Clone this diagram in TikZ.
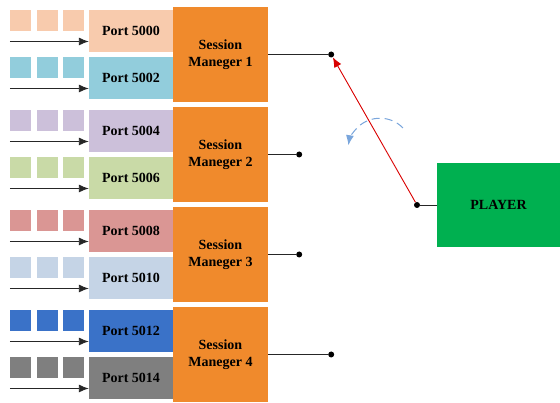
\documentclass[tikz,border=0pt]{standalone}
\usepackage{fontspec}
\setmainfont{Liberation Serif}
\usetikzlibrary{arrows.meta}
\definecolor{peach}{HTML}{F8CBAD}
\definecolor{sky}{HTML}{92CDDC}
\definecolor{lavender}{HTML}{CCC0DA}
\definecolor{sage}{HTML}{C9DAA7}
\definecolor{rose}{HTML}{DA9694}
\definecolor{mist}{HTML}{C5D4E6}
\definecolor{royal}{HTML}{3A72C8}
\definecolor{slate}{HTML}{7F7F7F}
\definecolor{smorange}{HTML}{F08A2C}
\definecolor{plgreen}{HTML}{00B050}
\definecolor{turnblue}{HTML}{7AA6DC}
\begin{document}
\begin{tikzpicture}[x=1pt, y=1pt, node distance=47pt]
  \tikzstyle{port} = [rectangle, minimum width=84pt, minimum height=42pt, inner sep=0pt,
                      font=\bfseries\fontsize{14}{16}\selectfont]
  \tikzstyle{manager} = [rectangle, fill=smorange, minimum width=95pt, minimum height=95pt,
                         inner sep=0pt, align=center, font=\bfseries\fontsize{14}{16.5}\selectfont]
  \tikzstyle{pkt} = [rectangle, minimum size=21pt, inner sep=0pt]
  \tikzstyle{dot} = [circle, fill=black, minimum size=6pt, inner sep=0pt]
  \tikzstyle{wire} = [line width=0.9pt, black!85]
  \tikzstyle{arr} = [-{Latex[length=10pt,width=8pt]}]
\useasboundingbox (0,0) rectangle (560,403);

\node[port, fill=peach] (p5000) at (131,372) {Port 5000};
\node[port, fill=sky, below of=p5000] (p5002) {Port 5002};
\node[port, fill=lavender, below of=p5002, yshift=-6pt] (p5004) {Port 5004};
\node[port, fill=sage, below of=p5004] (p5006) {Port 5006};
\node[port, fill=rose, below of=p5006, yshift=-6pt] (p5008) {Port 5008};
\node[port, fill=mist, below of=p5008] (p5010) {Port 5010};
\node[port, fill=royal, below of=p5010, yshift=-6pt] (p5012) {Port 5012};
\node[port, fill=slate, below of=p5012] (p5014) {Port 5014};

\node[manager, right of=p5000, xshift=42.5pt, yshift=-23.5pt] (sm1) {Session\\Maneger 1};
\node[manager, below of=sm1, yshift=-53pt] (sm2) {Session\\Maneger 2};
\node[manager, below of=sm2, yshift=-53pt] (sm3) {Session\\Maneger 3};
\node[manager, below of=sm3, yshift=-53pt] (sm4) {Session\\Maneger 4};

% packets waiting in front of each port
\node[pkt, fill=peach, left of=p5000, xshift=-10.5pt, yshift=10.5pt] (q5000c) {};
\node[pkt, fill=peach, left of=q5000c, xshift=20.5pt] (q5000b) {};
\node[pkt, fill=peach, left of=q5000b, xshift=20.5pt] (q5000a) {};
\node[pkt, fill=sky, left of=p5002, xshift=-10.5pt, yshift=10.5pt] (q5002c) {};
\node[pkt, fill=sky, left of=q5002c, xshift=20.5pt] (q5002b) {};
\node[pkt, fill=sky, left of=q5002b, xshift=20.5pt] (q5002a) {};
\node[pkt, fill=lavender, left of=p5004, xshift=-10.5pt, yshift=10.5pt] (q5004c) {};
\node[pkt, fill=lavender, left of=q5004c, xshift=20.5pt] (q5004b) {};
\node[pkt, fill=lavender, left of=q5004b, xshift=20.5pt] (q5004a) {};
\node[pkt, fill=sage, left of=p5006, xshift=-10.5pt, yshift=10.5pt] (q5006c) {};
\node[pkt, fill=sage, left of=q5006c, xshift=20.5pt] (q5006b) {};
\node[pkt, fill=sage, left of=q5006b, xshift=20.5pt] (q5006a) {};
\node[pkt, fill=rose, left of=p5008, xshift=-10.5pt, yshift=10.5pt] (q5008c) {};
\node[pkt, fill=rose, left of=q5008c, xshift=20.5pt] (q5008b) {};
\node[pkt, fill=rose, left of=q5008b, xshift=20.5pt] (q5008a) {};
\node[pkt, fill=mist, left of=p5010, xshift=-10.5pt, yshift=10.5pt] (q5010c) {};
\node[pkt, fill=mist, left of=q5010c, xshift=20.5pt] (q5010b) {};
\node[pkt, fill=mist, left of=q5010b, xshift=20.5pt] (q5010a) {};
\node[pkt, fill=royal, left of=p5012, xshift=-10.5pt, yshift=10.5pt] (q5012c) {};
\node[pkt, fill=royal, left of=q5012c, xshift=20.5pt] (q5012b) {};
\node[pkt, fill=royal, left of=q5012b, xshift=20.5pt] (q5012a) {};
\node[pkt, fill=slate, left of=p5014, xshift=-10.5pt, yshift=10.5pt] (q5014c) {};
\node[pkt, fill=slate, left of=q5014c, xshift=20.5pt] (q5014b) {};
\node[pkt, fill=slate, left of=q5014b, xshift=20.5pt] (q5014a) {};

% incoming streams
\coordinate (i5000) at ([xshift=-79pt, yshift=-10.5pt]p5000.west);
\coordinate (i5002) at ([xshift=-79pt, yshift=-10.5pt]p5002.west);
\coordinate (i5004) at ([xshift=-79pt, yshift=-10.5pt]p5004.west);
\coordinate (i5006) at ([xshift=-79pt, yshift=-10.5pt]p5006.west);
\coordinate (i5008) at ([xshift=-79pt, yshift=-10.5pt]p5008.west);
\coordinate (i5010) at ([xshift=-79pt, yshift=-10.5pt]p5010.west);
\coordinate (i5012) at ([xshift=-79pt, yshift=-10.5pt]p5012.west);
\coordinate (i5014) at ([xshift=-79pt, yshift=-10.5pt]p5014.west);
\draw[arr, wire] (i5000) -- (i5000 -| p5000.west);
\draw[arr, wire] (i5002) -- (i5002 -| p5002.west);
\draw[arr, wire] (i5004) -- (i5004 -| p5004.west);
\draw[arr, wire] (i5006) -- (i5006 -| p5006.west);
\draw[arr, wire] (i5008) -- (i5008 -| p5008.west);
\draw[arr, wire] (i5010) -- (i5010 -| p5010.west);
\draw[arr, wire] (i5012) -- (i5012 -| p5012.west);
\draw[arr, wire] (i5014) -- (i5014 -| p5014.west);

% switch contacts
\node[dot] (d1) at ([xshift=63pt]sm1.east) {};
\node[dot] (d2) at ([xshift=31pt]sm2.east) {};
\node[dot] (d3) at ([xshift=31pt]sm3.east) {};
\node[dot] (d4) at ([xshift=63pt]sm4.east) {};
\draw[wire] (sm1) -- (d1);
\draw[wire] (sm2) -- (d2);
\draw[wire] (sm3) -- (d3);
\draw[wire] (sm4) -- (d4);

\node[rectangle, fill=plgreen, minimum width=123pt, minimum height=84pt,
      font=\bfseries\fontsize{14}{16}\selectfont] (player) at (498.5,198) {PLAYER};
\node[dot, left of=player, xshift=-34.5pt] (dp) {};
\draw[wire] (player) -- (dp);
\draw[arr, red!85!black, line width=0.9pt] (dp) -- (d1);

\coordinate (turn) at (403,275);
\draw[arr, turnblue, line width=1pt, dash pattern=on 8pt off 5pt] (turn) arc[start angle=44, end angle=171, radius=32pt];
\end{tikzpicture}
\end{document}
